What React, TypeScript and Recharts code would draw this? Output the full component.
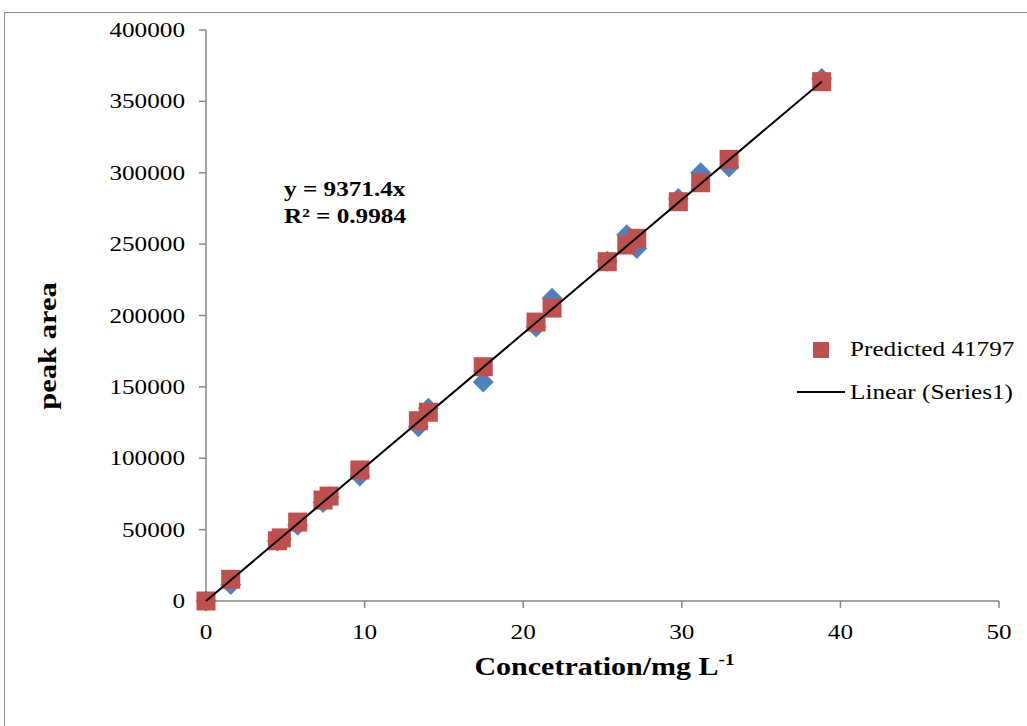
import React from 'react';
import { ScatterChart, Scatter, XAxis, YAxis, Legend, Label } from 'recharts';

// ---- data ----
const concentration = [0, 1.56, 4.5, 4.75, 5.78, 7.38, 7.76, 9.7, 13.39, 14.02, 17.48, 20.81, 21.82, 25.3, 26.53, 27.16, 29.78, 31.19, 32.98, 38.82];
const peakArea = [0, 11500, 42000, 43500, 53000, 69000, 73000, 87500, 122000, 135000, 153500, 192000, 212000, 238000, 256500, 247000, 282000, 300000, 304000, 366000];
const predicted = [0, 15200, 42200, 44200, 55300, 70700, 73500, 91800, 126300, 132200, 164100, 195400, 205200, 237700, 249400, 254100, 279700, 293000, 309400, 363800];
const trendX = [0, 38.82];
const trendY = [0, 363800];
const xTicks = [0, 10, 20, 30, 40, 50];
const yTicks = [0, 50000, 100000, 150000, 200000, 250000, 300000, 350000, 400000];
const seriesActual = 'Series1';
const seriesPredicted = 'Predicted 41797';
const seriesTrend = 'Linear (Series1)';
const equationLines = ['y = 9371.4x', 'R\u00B2 = 0.9984'];
const xTitle = 'Concetration/mg L';
const xTitleSup = '-1';
const yTitle = 'peak area';

const actualData = concentration.map((x, i) => ({ x, y: peakArea[i] }));
const predictedData = concentration.map((x, i) => ({ x, y: predicted[i] }));
const trendData = trendX.map((x, i) => ({ x, y: trendY[i] }));

const FONT = '"Liberation Serif", "Times New Roman", serif';
const SX = 1.2;
const RED = '#C0504D';
const BLUE = '#4F81BD';
const AXIS = '#868686';

const XTick = (props: any) => {
  const { x, y, payload } = props;
  return (
    <text transform={`translate(${x},${y + 31}) scale(${SX},1)`} textAnchor="middle" fontFamily={FONT} fontSize={21} fill="#000">
      {payload.value}
    </text>
  );
};

const YTick = (props: any) => {
  const { x, y, payload } = props;
  return (
    <text transform={`translate(${x - 14},${y + 7}) scale(${SX},1)`} textAnchor="end" fontFamily={FONT} fontSize={21} fill="#000">
      {payload.value}
    </text>
  );
};

const XTitleLabel = (props: any) => {
  const vb = props.viewBox || { x: 206, y: 601, width: 793 };
  const cx = vb.x + vb.width / 2 + 2;
  return (
    <text transform={`translate(${cx},${vb.y + 74}) scale(${SX},1)`} textAnchor="middle" fontFamily={FONT} fontSize={25} fontWeight="bold" fill="#000">
      {xTitle}
      <tspan fontSize={16} dy={-10}>{xTitleSup}</tspan>
    </text>
  );
};

const YTitleLabel = () => (
  <text transform={`translate(56,346) rotate(-90) scale(1.22,1)`} textAnchor="middle" fontFamily={FONT} fontSize={25} fontWeight="bold" fill="#000">
    {yTitle}
  </text>
);

const Square = (props: any) => {
  const { cx, cy } = props;
  return <rect x={cx - 9.5} y={cy - 9.5} width={19} height={19} fill={RED} />;
};

const Diamond = (props: any) => {
  const { cx, cy } = props;
  const r = 10.5;
  return <polygon points={`${cx},${cy - r} ${cx + r},${cy} ${cx},${cy + r} ${cx - r},${cy}`} fill={BLUE} />;
};

const NoShape = () => <g />;

const LegendContent = (props: any) => {
  const payload = props.payload || [];
  const find = (name: string) => {
    const e = payload.find((p: any) => p.value === name);
    return e ? e.value : name;
  };
  return (
    <svg width={237} height={80} style={{ display: 'block' }}>
      <rect x={23} y={12} width={16} height={16} fill={RED} />
      <text transform={`translate(60,26) scale(${SX},1)`} fontFamily={FONT} fontSize={21} fill="#000">{find(seriesPredicted)}</text>
      <line x1={7} x2={55} y1={62} y2={62} stroke="#000" strokeWidth={2} />
      <text transform={`translate(60,69) scale(${SX},1)`} fontFamily={FONT} fontSize={21} fill="#000">{find(seriesTrend)}</text>
    </svg>
  );
};

export default function App() {
  return (
    <div style={{ position: 'absolute', left: 0, top: 0, width: 1027, height: 726, overflow: 'hidden', background: '#fff' }}>
      <div style={{ position: 'absolute', left: 4, top: 12, width: 1100, height: 800, border: '1px solid #8c8c8c' }} />
      <div style={{ position: 'absolute', left: 0, top: 0 }}>
        <ScatterChart width={1027} height={726} margin={{ top: 30, right: 28, bottom: 95, left: 146 }}>
          <XAxis
            type="number"
            dataKey="x"
            domain={[0, 50]}
            ticks={xTicks}
            interval={0}
            height={30}
            tickSize={7}
            tickMargin={0}
            stroke={AXIS}
            strokeWidth={1.5}
            tickLine={{ stroke: AXIS, strokeWidth: 1.5 }}
            tick={<XTick />}
            label={<Label content={<XTitleLabel />} />}
          />
          <YAxis
            type="number"
            dataKey="y"
            domain={[0, 400000]}
            ticks={yTicks}
            interval={0}
            width={60}
            tickSize={7}
            tickMargin={0}
            stroke={AXIS}
            strokeWidth={1.5}
            tickLine={{ stroke: AXIS, strokeWidth: 1.5 }}
            tick={<YTick />}
            label={<Label content={<YTitleLabel />} />}
          />
          <Legend
            layout="vertical"
            align="center"
            verticalAlign="middle"
            content={<LegendContent />}
            wrapperStyle={{ left: 790, top: 330, width: 237, height: 80 }}
          />
          <Scatter name={seriesActual} data={actualData} fill={BLUE} shape={<Diamond />} legendType="diamond" isAnimationActive={false} />
          <Scatter name={seriesPredicted} data={predictedData} fill={RED} shape={<Square />} legendType="square" isAnimationActive={false} />
          <Scatter name={seriesTrend} data={trendData} fill="#000" line={{ stroke: '#000', strokeWidth: 2 }} shape={<NoShape />} legendType="line" isAnimationActive={false} />
        </ScatterChart>
      </div>
      <svg width={1027} height={726} style={{ position: 'absolute', left: 0, top: 0, pointerEvents: 'none' }}>
        <text transform={`translate(284,196) scale(${SX},1)`} fontFamily={FONT} fontSize={21} fontWeight="bold" fill="#000">{equationLines[0]}</text>
        <text transform={`translate(284,223) scale(${SX},1)`} fontFamily={FONT} fontSize={21} fontWeight="bold" fill="#000">{equationLines[1]}</text>
      </svg>
    </div>
  );
}
